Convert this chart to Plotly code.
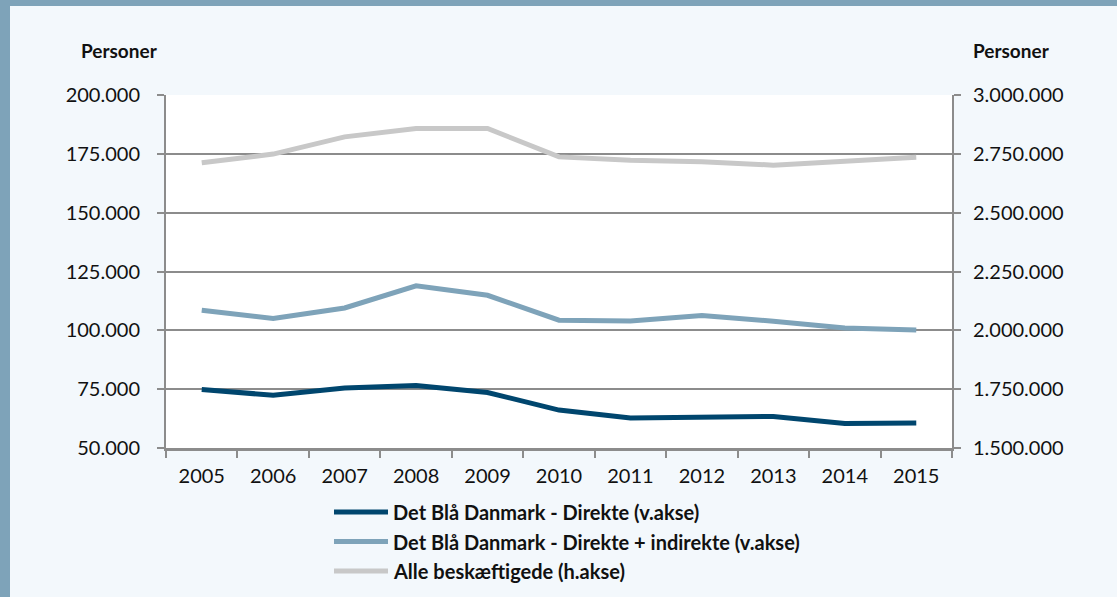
import plotly.graph_objects as go

YEARS = ["2005", "2006", "2007", "2008", "2009", "2010", "2011", "2012", "2013", "2014", "2015"]

BLAA_DIREKTE = [74900, 72400, 75500, 76600, 73600, 66100, 62800, 63200, 63400, 60400, 60600]
BLAA_DIR_INDIR = [108500, 105000, 109500, 118900, 114900, 104300, 104000, 106300, 103900, 101000, 100100]
ALLE_BESK = [2712000, 2749000, 2822000, 2858000, 2858000, 2737000, 2723000, 2716000, 2702000, 2716000, 2735000]

NAMES = [
    "Det Blå Danmark - Direkte (v.akse)",
    "Det Blå Danmark - Direkte + indirekte (v.akse)",
    "Alle beskæftigede (h.akse)",
]
COLORS = ["#00466e", "#7ea3b9", "#c8c8c8"]

FONT = "Lato, 'Open Sans', sans-serif"
INK = "#111111"
AXIS = "#8c8c8c"
PAPER = "#f3f8fc"
FRAME = "#7ea3b9"

W, H = 1117, 597
L, R, T, B = 166, 165, 95, 149
PW, PH = W - L - R, H - T - B


def px(x):
    return (x - L) / PW


def py(y):
    return (H - B - y) / PH


fig = go.Figure()
for vals, name, color, axis in zip(
    [BLAA_DIREKTE, BLAA_DIR_INDIR, ALLE_BESK], NAMES, COLORS, ["y", "y", "y2"]
):
    fig.add_trace(go.Scatter(
        x=YEARS, y=vals, name=name, mode="lines", yaxis=axis,
        line={"color": color, "width": 5}, showlegend=False,
    ))

fig.update_layout(
    width=W, height=H,
    margin={"l": L, "r": R, "t": T, "b": B},
    paper_bgcolor=PAPER,
    plot_bgcolor="white",
    font={"family": FONT, "color": INK, "size": 20},
    separators=",.",
    xaxis={
        "type": "category", "tickson": "boundaries", "ticks": "outside",
        "ticklen": 7, "tickwidth": 2, "tickcolor": AXIS,
        "showline": True, "linecolor": AXIS, "linewidth": 2.5,
        "showgrid": False, "ticklabelstandoff": 8,
        "range": [-0.5, 10.5],
    },
    yaxis={
        "range": [50000, 200000], "dtick": 25000, "tickformat": ",d",
        "ticks": "outside", "ticklen": 7, "tickwidth": 2, "tickcolor": AXIS,
        "showline": True, "linecolor": AXIS, "linewidth": 2,
        "gridcolor": AXIS, "gridwidth": 1.5, "zeroline": False,
        "ticklabelstandoff": 13,
    },
    yaxis2={
        "range": [1500000, 3000000], "dtick": 250000, "tickformat": ",d",
        "overlaying": "y", "side": "right",
        "ticks": "outside", "ticklen": 7, "tickwidth": 2, "tickcolor": AXIS,
        "showline": True, "linecolor": AXIS, "linewidth": 2,
        "showgrid": False, "zeroline": False,
        "ticklabelstandoff": 8,
    },
)

# frame: top band and left edge
fig.add_shape(type="rect", xref="paper", yref="paper",
              x0=px(0), x1=px(W), y0=py(6), y1=py(-2),
              fillcolor=FRAME, line={"width": 0}, layer="above")
fig.add_shape(type="rect", xref="paper", yref="paper",
              x0=px(-2), x1=px(10), y0=py(H + 2), y1=py(0),
              fillcolor=FRAME, line={"width": 0}, layer="above")

# axis unit labels
for xc in (119, 1012):
    fig.add_annotation(text="<b>Personer</b>", xref="paper", yref="paper",
                       x=px(xc), y=py(50), xanchor="center", yanchor="middle",
                       showarrow=False, font={"size": 19, "color": INK})

# legend below the plot
for i, (name, color) in enumerate(zip(NAMES, COLORS)):
    yy = py(512 + 29.5 * i)
    fig.add_shape(type="line", xref="paper", yref="paper",
                  x0=px(334), x1=px(388), y0=yy, y1=yy,
                  line={"color": color, "width": 5})
    fig.add_annotation(text=f"<b>{name}</b>", xref="paper", yref="paper",
                       x=px(391), y=yy, xanchor="left", yanchor="middle",
                       showarrow=False, font={"size": 20, "color": INK})

# page has no margin so the figure fills the window exactly
fig.write_html(
    "out.html",
    config={"displayModeBar": False},
    post_script="document.body.style.margin='0';document.body.style.overflow='hidden';",
)
